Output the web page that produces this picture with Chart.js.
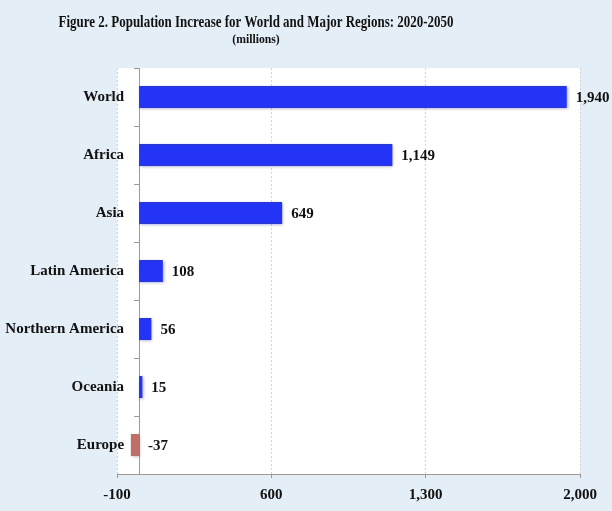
<!DOCTYPE html>
<html>
<head>
<meta charset="utf-8">
<script src="https://cdn.jsdelivr.net/npm/chart.js@4/dist/chart.umd.min.js"></script>
<style>
  html, body { margin: 0; padding: 0; background: #e4eef7; }
  #wrap { width: 612px; height: 511px; }
</style>
</head>
<body>
<div id="wrap"><canvas id="chart" width="612" height="511"></canvas></div>
<script>
// ── Data ──────────────────────────────────────────────────────────────────────
const regions = ["World", "Africa", "Asia", "Latin America", "Northern America", "Oceania", "Europe"];
const increase = [1940, 1149, 649, 108, 56, 15, -37];
const xTicks = [-100, 600, 1300, 2000];

const TITLE = "Figure 2. Population Increase for World and Major Regions: 2020-2050";
const SUBTITLE = "(millions)";

const SERIF = "'Liberation Serif', 'Times New Roman', serif";
const BLUE = "#2434f6";
const RED = "#c06f68";

// ── Plugins ───────────────────────────────────────────────────────────────────
const plotBackground = {
  id: "plotBackground",
  beforeDraw(chart) {
    const { ctx, chartArea: a } = chart;
    ctx.save();
    ctx.fillStyle = "#ffffff";
    ctx.fillRect(a.left, a.top, a.right - a.left, a.bottom - a.top);
    ctx.restore();
  },
};

const barShadow = {
  id: "barShadow",
  beforeDatasetsDraw(chart) {
    const ctx = chart.ctx;
    ctx.save();
    ctx.shadowColor = "rgba(0,0,0,0.35)";
    ctx.shadowBlur = 3;
    ctx.shadowOffsetX = 1;
    ctx.shadowOffsetY = 1;
  },
  afterDatasetsDraw(chart) {
    chart.ctx.restore();
  },
};

const valueLabels = {
  id: "valueLabels",
  afterDatasetsDraw(chart) {
    const ctx = chart.ctx;
    const meta = chart.getDatasetMeta(0);
    ctx.save();
    ctx.font = "bold 15px " + SERIF;
    ctx.fillStyle = "#111";
    ctx.textAlign = "left";
    ctx.textBaseline = "middle";
    meta.data.forEach((bar, i) => {
      const end = Math.max(bar.x, bar.base);
      ctx.fillText(increase[i].toLocaleString("en-US"), end + 9, bar.y + 1);
    });
    ctx.restore();
  },
};

const headTitle = {
  id: "headTitle",
  afterDraw(chart) {
    const ctx = chart.ctx;
    ctx.save();
    ctx.fillStyle = "#111";
    ctx.textAlign = "center";
    ctx.textBaseline = "middle";
    ctx.translate(256, 23);
    ctx.scale(0.81, 1);
    ctx.font = "bold 16px " + SERIF;
    ctx.fillText(TITLE, 0, 0);
    ctx.restore();
    ctx.save();
    ctx.fillStyle = "#111";
    ctx.textAlign = "center";
    ctx.textBaseline = "middle";
    ctx.translate(256, 40);
    ctx.scale(0.9, 1);
    ctx.font = "bold 13px " + SERIF;
    ctx.fillText(SUBTITLE, 0, 0);
    ctx.restore();
  },
};

// ── Chart ─────────────────────────────────────────────────────────────────────
new Chart(document.getElementById("chart"), {
  type: "bar",
  data: {
    labels: regions,
    datasets: [{
      data: increase,
      backgroundColor: increase.map(v => (v < 0 ? RED : BLUE)),
      borderWidth: 0,
      barPercentage: 0.38,
      categoryPercentage: 1,
    }],
  },
  options: {
    indexAxis: "y",
    responsive: false,
    animation: false,
    layout: { padding: { top: 68, left: 117, right: 32, bottom: 0 } },
    plugins: {
      legend: { display: false },
      tooltip: { enabled: false },
    },
    scales: {
      x: {
        min: -100,
        max: 2000,
        afterBuildTicks(scale) {
          scale.ticks = xTicks.map(v => ({ value: v }));
        },
        afterFit(scale) { scale.height = 37; },
        grid: {
          color: "#d2d2d2",
          tickColor: "#9a9a9a",
          tickLength: 4,
        },
        border: { display: true, color: "#9a9a9a", dash: [2, 2] },
        ticks: {
          color: "#111",
          padding: 8,
          font: { family: SERIF, size: 15, weight: "bold" },
          callback: v => v.toLocaleString("en-US"),
        },
      },
      // axis line at zero with category separators
      y: {
        position: { x: 0 },
        grid: {
          drawOnChartArea: false,
          drawTicks: true,
          tickLength: 5,
          tickColor: "#9a9a9a",
        },
        border: { display: true, color: "#9a9a9a" },
        ticks: { display: false },
      },
      // category labels, overlapping the plot edge a little
      yLabels: {
        type: "category",
        position: { x: -68 },
        labels: regions,
        offset: true,
        grid: { display: false, drawTicks: false },
        border: { display: false },
        ticks: {
          color: "#111",
          padding: 0,
          font: { family: SERIF, size: 15, weight: "bold" },
        },
      },
    },
  },
  plugins: [plotBackground, barShadow, valueLabels, headTitle],
});
</script>
</body>
</html>
